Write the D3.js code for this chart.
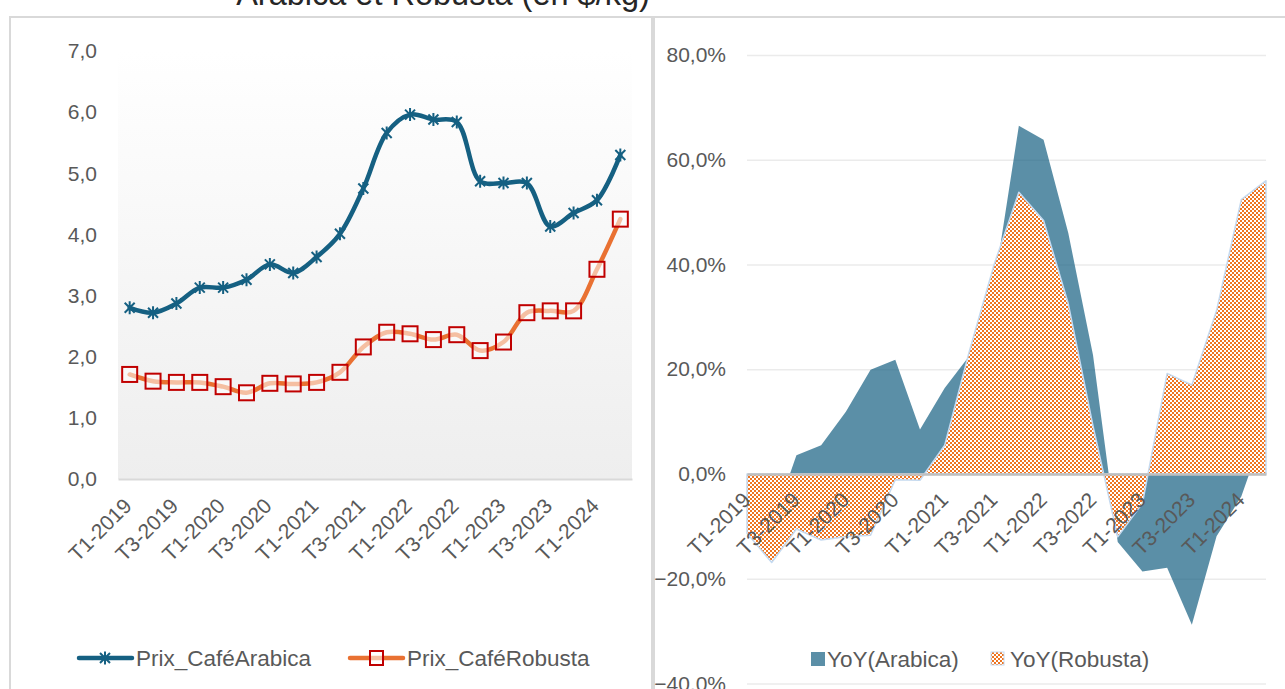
<!DOCTYPE html>
<html><head><meta charset="utf-8">
<script src="https://cdn.jsdelivr.net/npm/d3@7"></script>
<style>
html,body{margin:0;padding:0;background:#fff;overflow:hidden}
svg{display:block}
text{font-family:"Liberation Sans",Arial,sans-serif}
</style>
</head><body>
<svg id="chart" width="1285" height="689"></svg>
<script>
// ---------- DATA ----------
const categories = ["T1-2019","T2-2019","T3-2019","T4-2019","T1-2020","T2-2020","T3-2020","T4-2020",
  "T1-2021","T2-2021","T3-2021","T4-2021","T1-2022","T2-2022","T3-2022","T4-2022",
  "T1-2023","T2-2023","T3-2023","T4-2023","T1-2024","T2-2024"];
const tickLabels = ["T1-2019","T3-2019","T1-2020","T3-2020","T1-2021","T3-2021","T1-2022","T3-2022","T1-2023","T3-2023","T1-2024"];
const prixArabica = [2.80,2.72,2.87,3.13,3.13,3.26,3.51,3.37,3.63,4.01,4.75,5.66,5.96,5.88,5.84,4.87,4.84,4.84,4.13,4.35,4.56,5.30];
const prixRobusta = [1.71,1.60,1.58,1.58,1.51,1.41,1.565,1.555,1.58,1.745,2.16,2.40,2.375,2.28,2.36,2.10,2.24,2.72,2.75,2.75,3.43,4.25];
const yoyArabica = [-11,-10,3.6,5.5,11.9,19.9,21.8,8.5,16.4,22.6,36,66.5,63.8,46,22.7,-13,-18.6,-17.9,-28.8,-11.9,-4.3,9.1];
const yoyRobusta = [-11.3,-16.9,-10.5,-12.6,-12,-11.7,-1.1,-1.2,5.5,23.5,40,53.8,48.4,32.5,9.2,-12,-5.6,19.2,17,31.2,52.4,56];
const priceTicks = [0,1,2,3,4,5,6,7];
const yoyTicks = [-40,-20,0,20,40,60,80];
const titleText = "Arabica et Robusta (en $/kg)";
const seriesNames = ["Prix_CaféArabica","Prix_CaféRobusta","YoY(Arabica)","YoY(Robusta)"];

// ---------- STYLE ----------
const C_AR = "#156082", C_RO = "#E97132", C_PAT = "#EE7420", C_MK = "#C00000", TXT = "#595959", BORDER = "#d9d9d9";
const FS = 21, FL = 22.5;
const FONT = '"Liberation Sans",Arial,sans-serif';

const loc = d3.formatLocale({decimal:",", thousands:" ", grouping:[3], currency:["","$"]});
const fmt1 = loc.format(".1f");
const fmtPct = loc.format(".1%");

const svg = d3.select("#chart");
const defs = svg.append("defs");
const grad = defs.append("linearGradient").attr("id","bg").attr("x1",0).attr("y1",0).attr("x2",0).attr("y2",1);
grad.append("stop").attr("offset","0%").attr("stop-color","#ffffff");
grad.append("stop").attr("offset","100%").attr("stop-color","#eeeeee");
const pat = defs.append("pattern").attr("id","checker").attr("patternUnits","userSpaceOnUse").attr("width",4).attr("height",4);
pat.append("rect").attr("width",4).attr("height",4).attr("fill","#ffffff");
pat.append("rect").attr("x",0).attr("y",0).attr("width",2).attr("height",2).attr("fill",C_PAT);
pat.append("rect").attr("x",2).attr("y",2).attr("width",2).attr("height",2).attr("fill",C_PAT);

// title (partly cut off at top)
svg.append("text").attr("x",443).attr("y",5).attr("text-anchor","middle")
  .attr("font-size",32.5).attr("fill","#262626").text(titleText);

// frames
svg.append("rect").attr("x",10).attr("y",17).attr("width",642).attr("height",720)
  .attr("fill","none").attr("stroke",BORDER).attr("stroke-width",2);
svg.append("rect").attr("x",654).attr("y",17).attr("width",720).attr("height",720)
  .attr("fill","none").attr("stroke",BORDER).attr("stroke-width",2);

// ================= LEFT CHART =================
const xL = d3.scaleBand().domain(categories).range([118,632]);
const yL = d3.scaleLinear().domain([0,7]).range([479,51]);
const gL = svg.append("g");

gL.append("rect").attr("x",118).attr("y",yL(7)).attr("width",632-118).attr("height",yL(0)-yL(7))
  .attr("fill","url(#bg)");

const yAxL = gL.append("g").attr("transform","translate(112,0)")
  .call(d3.axisLeft(yL).tickValues(priceTicks).tickFormat(fmt1).tickSize(0).tickPadding(15));
yAxL.select(".domain").remove();
yAxL.selectAll("text").attr("font-size",FS).attr("fill",TXT).style("font-family",FONT);

const xAxL = gL.append("g").attr("transform",`translate(0,${yL(0)})`)
  .call(d3.axisBottom(xL).tickValues(tickLabels).tickSize(0));
xAxL.select(".domain").attr("stroke",BORDER).attr("stroke-width",2);
xAxL.selectAll("text").attr("font-size",FS).attr("fill",TXT).style("font-family",FONT)
  .attr("x",0).attr("y",0).attr("dy","0.35em").attr("text-anchor","end")
  .attr("transform","translate(-2,23) rotate(-45)");

const cx = d => xL(d) + xL.bandwidth()/2;
const lineP = d3.line().x((d,i)=>cx(categories[i])).y(d=>yL(d)).curve(d3.curveCatmullRom.alpha(0.5));

gL.append("path").datum(prixArabica).attr("d",lineP).attr("fill","none")
  .attr("stroke",C_AR).attr("stroke-width",4.5).attr("stroke-linecap","round");
gL.append("path").datum(prixRobusta).attr("d",lineP).attr("fill","none")
  .attr("stroke",C_RO).attr("stroke-width",4.5).attr("stroke-linecap","round");

const starPath = "M-5,-5L5,5M-5,5L5,-5M0,-6.5L0,6.5";
gL.append("g").selectAll("path").data(prixArabica).join("path")
  .attr("transform",(d,i)=>`translate(${cx(categories[i])},${yL(d)})`)
  .attr("d",starPath).attr("stroke",C_AR).attr("stroke-width",2).attr("fill","none");
gL.append("g").selectAll("rect").data(prixRobusta).join("rect")
  .attr("x",(d,i)=>cx(categories[i])-7.5).attr("y",d=>yL(d)-7.5).attr("width",15).attr("height",15)
  .attr("fill","#ffffff").attr("fill-opacity",0.55).attr("stroke",C_MK).attr("stroke-width",2);

// left legend
const lgL = svg.append("g");
lgL.append("line").attr("x1",79).attr("x2",132).attr("y1",658).attr("y2",658)
  .attr("stroke",C_AR).attr("stroke-width",4.5).attr("stroke-linecap","round");
lgL.append("path").attr("transform","translate(105,658)").attr("d",starPath)
  .attr("stroke",C_AR).attr("stroke-width",2).attr("fill","none");
lgL.append("text").attr("x",136).attr("y",658).attr("dy","0.35em").attr("font-size",FL).attr("fill",TXT).text(seriesNames[0]);
lgL.append("line").attr("x1",350).attr("x2",403).attr("y1",658).attr("y2",658)
  .attr("stroke",C_RO).attr("stroke-width",4.5).attr("stroke-linecap","round");
lgL.append("rect").attr("x",370).attr("y",651).attr("width",13).attr("height",14)
  .attr("fill","#ffffff").attr("fill-opacity",0.55).attr("stroke",C_MK).attr("stroke-width",2);
lgL.append("text").attr("x",407).attr("y",658).attr("dy","0.35em").attr("font-size",FL).attr("fill",TXT).text(seriesNames[1]);

// ================= RIGHT CHART =================
const xR = d3.scalePoint().domain(categories).range([747,1266]);
const yR = d3.scaleLinear().domain([-40,80]).range([683.5,55]);
const gR = svg.append("g");

const grid = gR.append("g").attr("transform","translate(747,0)")
  .call(d3.axisLeft(yR).tickValues(yoyTicks).tickSize(-(1266-747)).tickFormat(""));
grid.select(".domain").remove();
grid.selectAll("line").attr("stroke","#ebebeb").attr("stroke-width",1.5);

const yAxR = gR.append("g").attr("transform","translate(740,0)")
  .call(d3.axisLeft(yR).tickValues(yoyTicks).tickFormat(d=>fmtPct(d/100)).tickSize(0).tickPadding(14));
yAxR.select(".domain").remove();
yAxR.selectAll("text").attr("font-size",FS).attr("fill",TXT).style("font-family",FONT);

const area = d3.area().x((d,i)=>xR(categories[i])).y0(yR(0)).y1(d=>yR(d));
gR.append("path").datum(yoyArabica).attr("d",area).attr("fill",C_AR).attr("fill-opacity",0.7);
gR.append("path").datum(yoyRobusta).attr("d",area).attr("fill","url(#checker)")
  .attr("stroke","#c5daf0").attr("stroke-width",1.5).attr("stroke-linejoin","round");

const xAxR = gR.append("g").attr("transform",`translate(0,${yR(0)})`)
  .call(d3.axisBottom(xR).tickValues(tickLabels).tickSize(0));
xAxR.select(".domain").attr("stroke","#bfbfbf").attr("stroke-width",2.5);
xAxR.selectAll("text").attr("font-size",FS).attr("fill",TXT).style("font-family",FONT)
  .attr("x",0).attr("y",0).attr("dy","0.35em").attr("text-anchor","end")
  .attr("transform","translate(-1,22) rotate(-45)");

// right legend
const lgR = svg.append("g");
lgR.append("rect").attr("x",811).attr("y",652).attr("width",14).attr("height",14).attr("fill",C_AR).attr("fill-opacity",0.7);
lgR.append("text").attr("x",827).attr("y",659).attr("dy","0.35em").attr("font-size",FL).attr("fill",TXT).text(seriesNames[2]);
lgR.append("rect").attr("x",991).attr("y",652).attr("width",13).attr("height",13).attr("fill","url(#checker)")
  .attr("stroke","#c5daf0").attr("stroke-width",1);
lgR.append("text").attr("x",1010).attr("y",659).attr("dy","0.35em").attr("font-size",FL).attr("fill",TXT).text(seriesNames[3]);
</script>
</body></html>
